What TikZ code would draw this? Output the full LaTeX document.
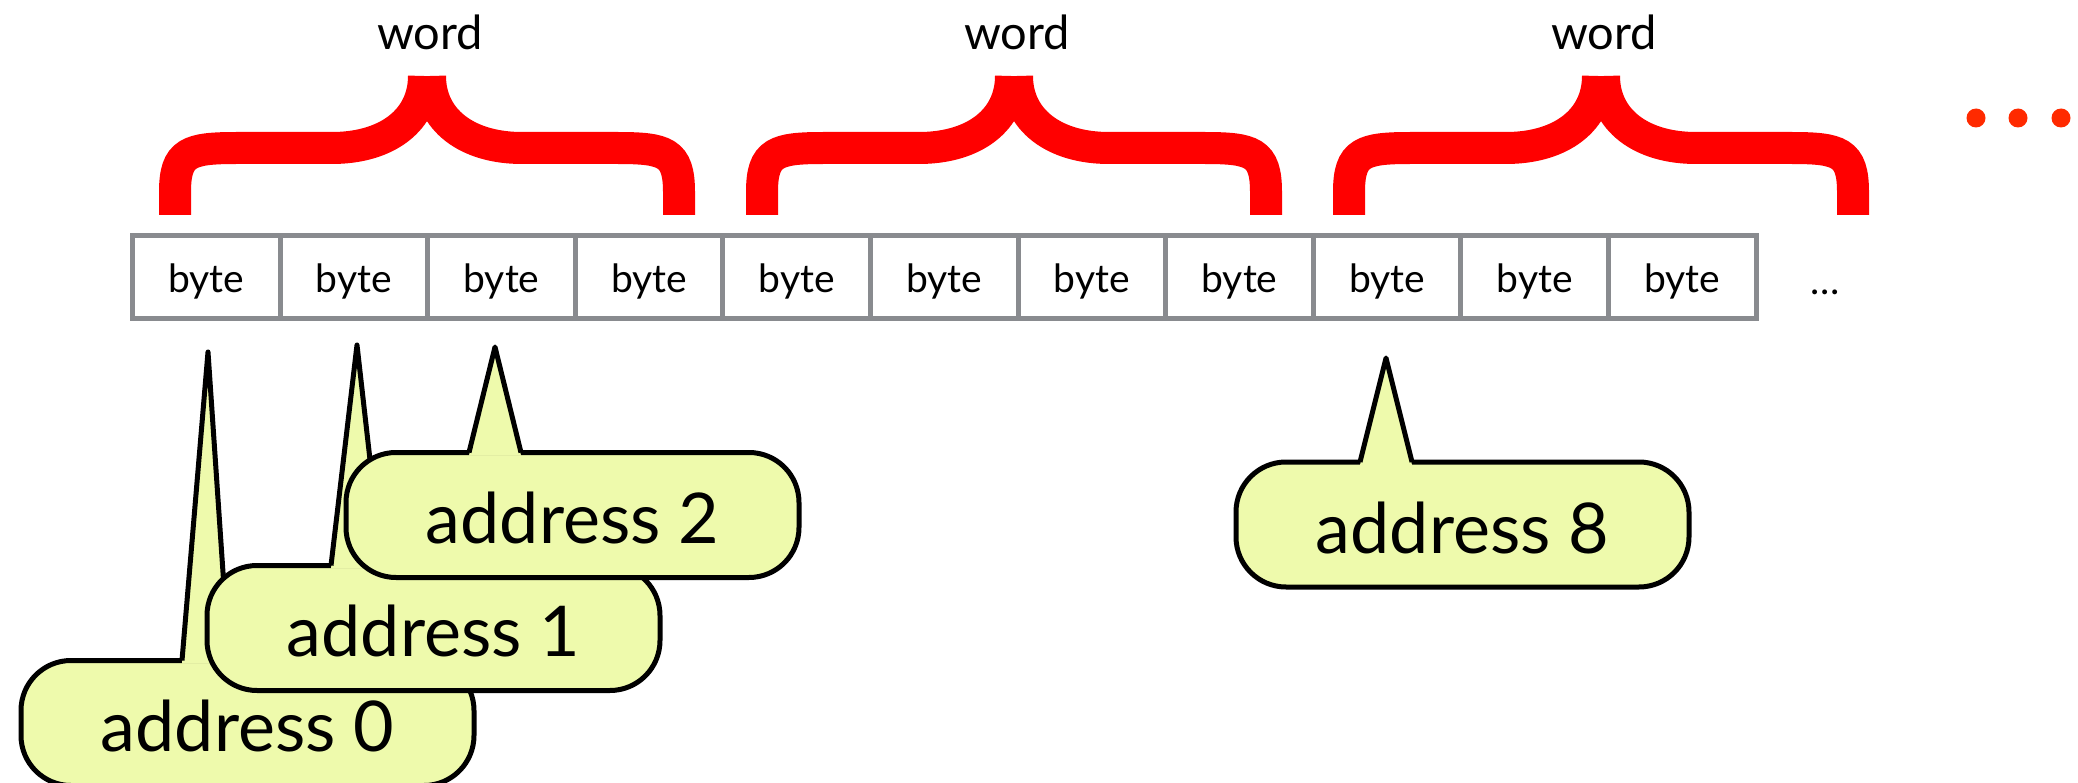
\documentclass[tikz,border=0pt]{standalone}
\usepackage{fontspec}
\setmainfont{Lato}
\usetikzlibrary{calc}
\definecolor{cellgray}{RGB}{137,139,143}
\definecolor{calloutfill}{RGB}{238,250,172}
\definecolor{bracered}{RGB}{255,0,0}
\definecolor{dotred}{RGB}{255,42,0}
\tikzset{
  cell/.style={draw=cellgray, line width=5pt, rectangle, minimum width=147.6pt,
    inner xsep=0pt, inner ysep=0pt, outer sep=0pt, text height=57.5pt, text depth=25.5pt,
    font=\fontsize{39}{44}\selectfont},
  wordlbl/.style={inner sep=0pt, font=\fontsize{47}{54}\selectfont},
  callout/.style={draw=black, line width=5pt, fill=calloutfill, rectangle,
    rounded corners=50pt, minimum width=453pt, inner xsep=0pt, inner ysep=0pt, outer sep=0pt,
    text height=91pt, text depth=34pt, font=\fontsize{70}{80}\selectfont},
  pointerfill/.style={fill=calloutfill},
  pointerline/.style={draw=black, line width=5pt, line join=round},
  bracestroke/.style={draw=bracered, line width=32pt, line cap=butt},
  reddot/.style={circle, fill=dotred, minimum size=19pt, inner sep=0pt},
  wordbrace/.pic={
    \draw[bracestroke] (-252,-215) -- (-252,-192)
      .. controls (-252,-152) and (-238,-148) .. (-190,-148) -- (-95,-148)
      .. controls (-40,-148) and (-3,-120) .. (-3,-76);
    \draw[bracestroke] (252,-215) -- (252,-192)
      .. controls (252,-152) and (238,-148) .. (190,-148) -- (95,-148)
      .. controls (40,-148) and (3,-120) .. (3,-76);
  }
}
\begin{document}
\begin{tikzpicture}[x=1pt,y=1pt]
\useasboundingbox (0,0) rectangle (2078,-783);

% braces and word labels
\pic at (427,0) {wordbrace};
\pic at (1014,0) {wordbrace};
\pic at (1601,0) {wordbrace};
\node[wordlbl, anchor=base] (w1) at (430,-50) {word};
\node[wordlbl, anchor=base] (w2) at (1017,-50) {word};
\node[wordlbl, anchor=base] (w3) at (1604,-50) {word};

% red dots
\node[reddot] (d1) at (1976,-118) {};
\node[reddot] (d2) at (2018,-118) {};
\node[reddot] (d3) at (2061,-118) {};

% byte row
\node[cell, anchor=north west] (c1) at (132.5,-235.5) {byte};
\node[cell, anchor=west] (c2) at (c1.east) {byte};
\node[cell, anchor=west] (c3) at (c2.east) {byte};
\node[cell, anchor=west] (c4) at (c3.east) {byte};
\node[cell, anchor=west] (c5) at (c4.east) {byte};
\node[cell, anchor=west] (c6) at (c5.east) {byte};
\node[cell, anchor=west] (c7) at (c6.east) {byte};
\node[cell, anchor=west] (c8) at (c7.east) {byte};
\node[cell, anchor=west] (c9) at (c8.east) {byte};
\node[cell, anchor=west] (c10) at (c9.east) {byte};
\node[cell, anchor=west] (c11) at (c10.east) {byte};
\node[inner sep=0pt, anchor=base, font=\fontsize{39}{44}\selectfont] (etc) at (1825,-295) {\ldots};

% pointer tips
\coordinate (t0) at (208,-352);
\coordinate (t1) at (357,-345);
\coordinate (t2) at (495,-347);
\coordinate (t8) at (1386,-358);

% callouts (drawn in order so later ones cover earlier ones)
\node[callout, anchor=north west] (a0) at (21,-660.5) {address 0};
\fill[pointerfill] ($(a0.north west)+(161,-3)$) -- (t0) -- ($(a0.north west)+(208,-3)$) -- cycle;
\draw[pointerline] ($(a0.north west)+(161,0)$) -- (t0) -- ($(a0.north west)+(208,0)$);

\node[callout, anchor=north west] (a1) at (207,-565.5) {address 1};
\fill[pointerfill] ($(a1.north west)+(124,-3)$) -- (t1) -- ($(a1.north west)+(175,-3)$) -- cycle;
\draw[pointerline] ($(a1.north west)+(124,0)$) -- (t1) -- ($(a1.north west)+(175,0)$);

\node[callout, anchor=north west] (a2) at (346,-452.5) {address 2};
\fill[pointerfill] ($(a2.north west)+(123,-3)$) -- (t2) -- ($(a2.north west)+(175,-3)$) -- cycle;
\draw[pointerline] ($(a2.north west)+(123,0)$) -- (t2) -- ($(a2.north west)+(175,0)$);

\node[callout, anchor=north west] (a8) at (1236,-462) {address 8};
\fill[pointerfill] ($(a8.north west)+(124,-3)$) -- (t8) -- ($(a8.north west)+(176,-3)$) -- cycle;
\draw[pointerline] ($(a8.north west)+(124,0)$) -- (t8) -- ($(a8.north west)+(176,0)$);
\end{tikzpicture}
\end{document}
